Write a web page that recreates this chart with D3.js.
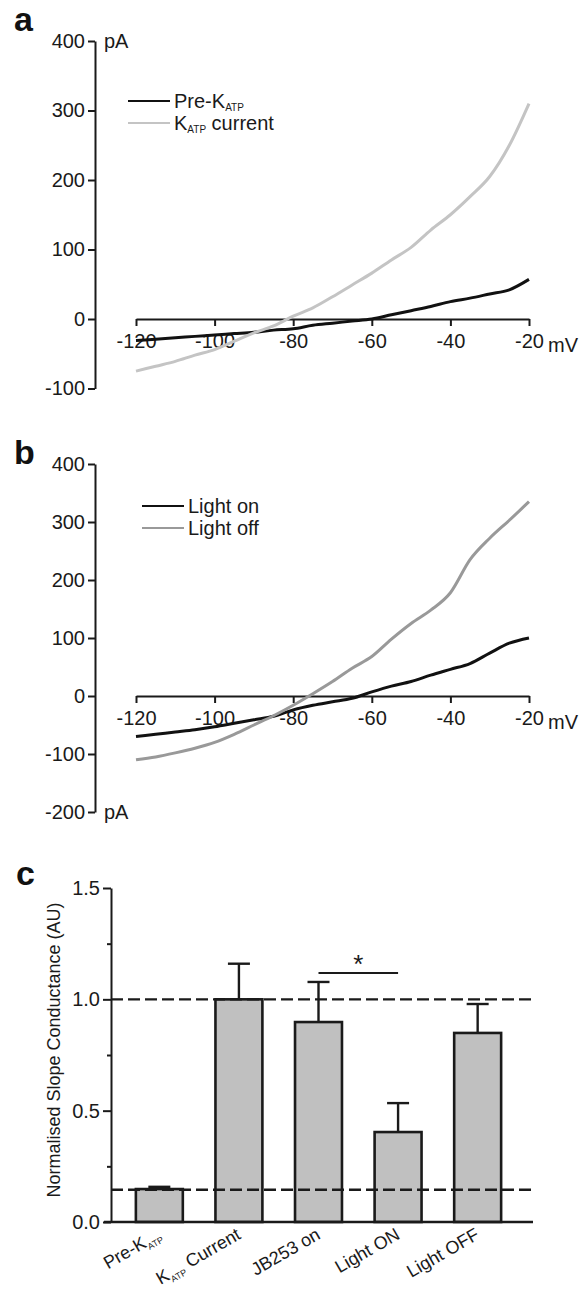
<!DOCTYPE html>
<meta charset="utf-8">
<style>
body { margin: 0; background: #fff; }
svg { font-family: "Liberation Sans", Arial, sans-serif; }
.axis path, .axis line { stroke: #1a1a1a; stroke-width: 2px; }
.axis text { font-size: 20px; fill: #1a1a1a; }
.trace { fill: none; stroke-width: 3px; stroke-linejoin: round; }
.lbl { font-size: 20px; fill: #1a1a1a; }
.panel { font-size: 34px; font-weight: bold; fill: #111; }
</style>
<body>
<div id="chart"></div>
<script src="https://d3js.org/d3.v7.min.js"></script>
<script>

// membrane potential (mV) for the I-V traces
var voltage = [-120,-115,-110,-105,-100,-95,-90,-85,-80,-75,-70,-65,-60,-55,-50,-45,-40,-35,-30,-25,-20];

// panel a (pA)
var preKatp     = [-31,-29,-27,-25,-23,-21,-19,-16,-14,-9,-6,-3,0,6,12,18,25,30,36,42,57];
var katpCurrent = [-75,-68,-61,-52,-44,-32,-20,-10,4,16,32,49,66,85,103,128,150,176,205,250,310];

// panel b (pA)
var lightOn  = [-70,-66,-62,-58,-53,-47,-41,-35,-24,-16,-10,-4,7,17,25,36,46,56,74,91,100];
var lightOff = [-110,-105,-98,-90,-80,-66,-50,-34,-16,4,25,48,68,98,125,148,178,235,272,303,335];

// panel c
var groups = ["Pre-KATP", "KATP Current", "JB253 on", "Light ON", "Light OFF"];
var groupLabels = [["Pre-K", "ATP", ""], ["K", "ATP", " Current"], ["JB253 on", "", ""], ["Light ON", "", ""], ["Light OFF", "", ""]];
var conductance = [0.148, 1.0, 0.898, 0.404, 0.849];
var conductanceErr = [0.01, 0.16, 0.18, 0.13, 0.13];
var refLines = [1.0, 0.145];

var xTicks = [-120,-100,-80,-60,-40,-20];

var width = 583, height = 1289;

var svg = d3.select("#chart").append("svg")
    .attr("width", width)
    .attr("height", height);

svg.append("rect").attr("width", width).attr("height", height).attr("fill", "#fff");

var x = d3.scaleLinear().domain([-120, -20]).range([136, 529]);
var axisX = 95;
var plain = function(d) { return String(d); };  // keep hyphen-minus like the original

function ivPanel(opts) {
    var y = d3.scaleLinear().domain(opts.yDomain).range(opts.yRange);
    var g = svg.append("g");

    g.append("g").attr("class", "axis")
        .attr("transform", "translate(" + axisX + ",0)")
        .call(d3.axisLeft(y).tickValues(opts.yTicks).tickFormat(plain)
            .tickSize(7).tickSizeOuter(0).tickPadding(3));

    g.append("g").attr("class", "axis")
        .attr("transform", "translate(0," + y(0) + ")")
        .call(d3.axisBottom(x).tickValues(xTicks).tickFormat(plain)
            .tickSize(7).tickSizeOuter(0).tickPadding(8));

    var line = d3.line()
        .x(function(d, i) { return x(voltage[i]); })
        .y(function(d) { return y(d); })
        .curve(d3.curveMonotoneX);

    opts.series.forEach(function(s) {
        g.append("path").attr("class", "trace")
            .attr("d", line(s.values))
            .attr("stroke", s.color);
    });

    // legend
    opts.series.forEach(function(s, i) {
        var ly = opts.legendY + i * 22;
        g.append("line")
            .attr("x1", opts.legendX).attr("x2", opts.legendX + 42)
            .attr("y1", ly).attr("y2", ly)
            .attr("stroke", s.color).attr("stroke-width", 2.2);
        var t = g.append("text").attr("class", "lbl")
            .attr("x", opts.legendX + 46).attr("y", ly + 7);
        t.append("tspan").text(s.name[0]);
        if (s.name[1]) {
            t.append("tspan").attr("font-size", 10).attr("dy", 3).text(s.name[1]);
            t.append("tspan").attr("dy", -3).text(s.name[2]);
        }
    });

    g.append("text").attr("class", "lbl")
        .attr("x", 548).attr("y", y(0) + 33).text("mV");
    g.append("text").attr("class", "lbl")
        .attr("x", 104).attr("y", y(opts.pAAt) + 7).text("pA");
    g.append("text").attr("class", "panel")
        .attr("x", 14).attr("y", opts.panelY).text(opts.panel);
}

ivPanel({
    panel: "a", panelY: 31,
    yDomain: [-100, 400], yRange: [388.5, 41],
    yTicks: [-100, 0, 100, 200, 300, 400],
    pAAt: 400,
    legendX: 128, legendY: 101,
    series: [
        {name: ["Pre-K", "ATP", ""], values: preKatp, color: "#111"},
        {name: ["K", "ATP", " current"], values: katpCurrent, color: "#c4c4c4"}
    ]
});

ivPanel({
    panel: "b", panelY: 464,
    yDomain: [-200, 400], yRange: [812, 464],
    yTicks: [-200, -100, 0, 100, 200, 300, 400],
    pAAt: -200,
    legendX: 142, legendY: 506,
    series: [
        {name: ["Light on"], values: lightOn, color: "#111"},
        {name: ["Light off"], values: lightOff, color: "#999"}
    ]
});

// panel c bar chart
var yc = d3.scaleLinear().domain([0, 1.5]).range([1222, 888]);
var xc = d3.scaleBand().domain(groups).range([112, 525]).paddingInner(0.41).paddingOuter(0.3);
var cAxisX = 111;

var gc = svg.append("g");

gc.append("g").attr("class", "axis")
    .attr("transform", "translate(" + cAxisX + ",0)")
    .call(d3.axisLeft(yc).tickValues([0, 0.5, 1, 1.5]).tickFormat(d3.format(".1f"))
        .tickSize(8).tickSizeOuter(0).tickPadding(3));
gc.append("g").attr("class", "axis")
    .attr("transform", "translate(" + cAxisX + ",0)")
    .call(d3.axisLeft(yc).tickValues([0.25, 0.75, 1.25]).tickFormat("").tickSize(4).tickSizeOuter(0))
    .select(".domain").remove();

// error bars (drawn first so bar outline covers the stem base)
gc.selectAll("line.err")
    .data(groups)
    .enter().append("line")
    .attr("class", "err")
    .attr("x1", function(d) { return xc(d) + xc.bandwidth() / 2; })
    .attr("x2", function(d) { return xc(d) + xc.bandwidth() / 2; })
    .attr("y1", function(d, i) { return yc(conductance[i]); })
    .attr("y2", function(d, i) { return yc(conductance[i] + conductanceErr[i]); })
    .attr("stroke", "#1a1a1a").attr("stroke-width", 2.4);

gc.selectAll("line.cap")
    .data(groups)
    .enter().append("line")
    .attr("class", "cap")
    .attr("x1", function(d) { return xc(d) + xc.bandwidth() / 2 - 11; })
    .attr("x2", function(d) { return xc(d) + xc.bandwidth() / 2 + 11; })
    .attr("y1", function(d, i) { return yc(conductance[i] + conductanceErr[i]); })
    .attr("y2", function(d, i) { return yc(conductance[i] + conductanceErr[i]); })
    .attr("stroke", "#1a1a1a").attr("stroke-width", 2.4);

gc.selectAll("rect.bar")
    .data(groups)
    .enter().append("rect")
    .attr("class", "bar")
    .attr("x", function(d) { return xc(d); })
    .attr("width", xc.bandwidth())
    .attr("y", function(d, i) { return yc(conductance[i]); })
    .attr("height", function(d, i) { return yc(0) - yc(conductance[i]); })
    .attr("fill", "#c0c0c0")
    .attr("stroke", "#1a1a1a").attr("stroke-width", 2.6);

// dashed reference lines over the bars
gc.selectAll("line.ref")
    .data(refLines)
    .enter().append("line")
    .attr("class", "ref")
    .attr("x1", cAxisX).attr("x2", 535)
    .attr("y1", function(d) { return yc(d); })
    .attr("y2", function(d) { return yc(d); })
    .attr("stroke", "#1a1a1a").attr("stroke-width", 2.4)
    .attr("stroke-dasharray", "12,5");

// baseline
gc.append("line")
    .attr("x1", 104).attr("x2", 533)
    .attr("y1", yc(0)).attr("y2", yc(0))
    .attr("stroke", "#1a1a1a").attr("stroke-width", 2.6);

// significance bar between JB253 on and Light ON
var sigY = yc(1.118);
gc.append("line")
    .attr("x1", xc(groups[2]) + xc.bandwidth() / 2)
    .attr("x2", xc(groups[3]) + xc.bandwidth() / 2)
    .attr("y1", sigY).attr("y2", sigY)
    .attr("stroke", "#1a1a1a").attr("stroke-width", 2);
gc.append("text")
    .attr("x", (xc(groups[2]) + xc(groups[3]) + xc.bandwidth()) / 2)
    .attr("y", sigY)
    .attr("text-anchor", "middle")
    .attr("font-size", 26)
    .attr("fill", "#1a1a1a")
    .text("*");

// category labels, rotated
groupLabels.forEach(function(parts, i) {
    var cx = xc(groups[i]) + xc.bandwidth() / 2 + 3;
    var t = gc.append("text")
        .attr("font-size", 18).attr("fill", "#1a1a1a")
        .attr("text-anchor", "end")
        .attr("transform", "translate(" + cx + ",1238) rotate(-30)");
    t.append("tspan").text(parts[0]);
    if (parts[1]) {
        t.append("tspan").attr("font-size", 9).attr("dy", 4).text(parts[1]);
        t.append("tspan").attr("dy", -4).text(parts[2]);
    }
});

gc.append("text")
    .attr("font-size", 18).attr("fill", "#1a1a1a")
    .attr("text-anchor", "middle")
    .attr("transform", "translate(60,1050) rotate(-90)")
    .text("Normalised Slope Conductance (AU)");

gc.append("text").attr("class", "panel")
    .attr("x", 16).attr("y", 885).text("c");

</script>
</body>
